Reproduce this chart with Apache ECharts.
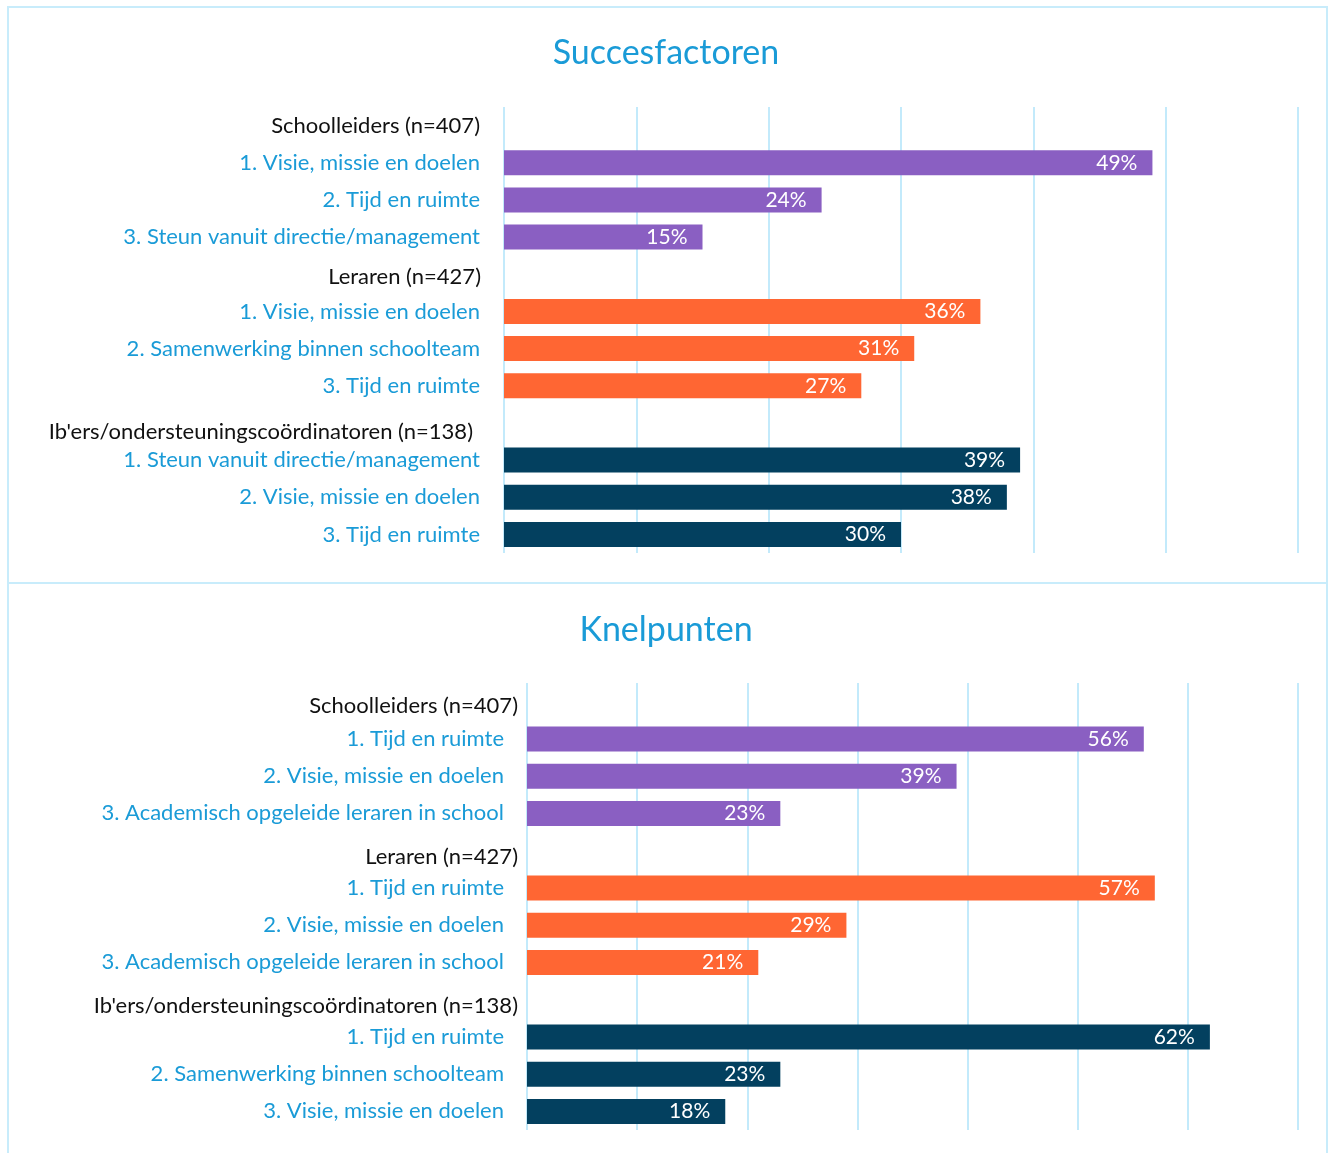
<!DOCTYPE html>
<html>
<head>
<meta charset="utf-8">
<script src="https://cdn.jsdelivr.net/npm/echarts@6/dist/echarts.min.js"></script>
<style>
html,body{margin:0;padding:0;background:#fff;}
#c{width:1332px;height:1153px;}
</style>
</head>
<body>
<div id="c"></div>
<script>
const titles = ['Succesfactoren', 'Knelpunten'];
const groups = ['Schoolleiders (n=407)', 'Leraren (n=427)', "Ib'ers/ondersteuningscoördinatoren (n=138)"];

const succesItems = [
  ['1. Visie, missie en doelen', '2. Tijd en ruimte', '3. Steun vanuit directie/management'],
  ['1. Visie, missie en doelen', '2. Samenwerking binnen schoolteam', '3. Tijd en ruimte'],
  ['1. Steun vanuit directie/management', '2. Visie, missie en doelen', '3. Tijd en ruimte']
];
const succesValues = [
  [49, 24, 15],
  [36, 31, 27],
  [39, 38, 30]
];

const knelItems = [
  ['1. Tijd en ruimte', '2. Visie, missie en doelen', '3. Academisch opgeleide leraren in school'],
  ['1. Tijd en ruimte', '2. Visie, missie en doelen', '3. Academisch opgeleide leraren in school'],
  ['1. Tijd en ruimte', '2. Samenwerking binnen schoolteam', '3. Visie, missie en doelen']
];
const knelValues = [
  [56, 39, 23],
  [57, 29, 21],
  [62, 23, 18]
];

const axisMax = [60, 70];
const tickInterval = 10;

const groupColors = ['#8a5fc2', '#ff6633', '#03405f'];
const FONT = 'Lato';
const LBL = 22;

function build(items, values) {
  const cats = [], data = [];
  groups.forEach((g, gi) => {
    cats.push(g);
    data.push('-');
    items[gi].forEach((it, k) => {
      cats.push(it);
      data.push(values[gi][k]);
    });
  });
  return { cats, data };
}

const s = build(succesItems, succesValues);
const k = build(knelItems, knelValues);

// header label vertical/horizontal tweaks (style only)
const hdrStyles = [
  [[0, 4, 0, 0], [6, 3, 0, 0], [18, 11, 0, 0]],
  [[9, 0, 0, 0], [13, 0, 0, 0], [13, 0, 0, 0]]
];
const itemPad = [[0, 4, 0, 0], [0, 14, 0, 0]];
const labelMargin = [20, 9];

function yAxisFor(gi, cats) {
  const rich = {
    it: { color: '#1a9bd7', fontSize: LBL, fontFamily: FONT, padding: itemPad[gi] },
    h0: { color: '#111', fontSize: LBL, fontFamily: FONT, padding: hdrStyles[gi][0] },
    h1: { color: '#111', fontSize: LBL, fontFamily: FONT, padding: hdrStyles[gi][1] },
    h2: { color: '#111', fontSize: LBL, fontFamily: FONT, padding: hdrStyles[gi][2] }
  };
  return {
    type: 'category',
    gridIndex: gi,
    inverse: true,
    data: cats,
    axisLine: { show: false },
    axisTick: { show: false },
    axisLabel: {
      margin: labelMargin[gi],
      interval: 0,
      rich: rich,
      formatter: function (v, idx) {
        if (idx % 4 === 0) return '{h' + (idx / 4) + '|' + v + '}';
        return '{it|' + v + '}';
      }
    }
  };
}

function xAxisFor(gi) {
  return {
    type: 'value',
    gridIndex: gi,
    min: 0,
    max: axisMax[gi],
    interval: tickInterval,
    axisLabel: { show: false },
    axisLine: { show: false },
    axisTick: { show: false },
    splitLine: { show: true, lineStyle: { color: '#c3eafb', width: 2 } }
  };
}

function seriesFor(gi, data) {
  return {
    type: 'bar',
    xAxisIndex: gi,
    yAxisIndex: gi,
    data: data,
    barWidth: 25,
    itemStyle: {
      color: function (p) { return groupColors[Math.floor(p.dataIndex / 4)]; }
    },
    label: {
      show: true,
      position: 'insideRight',
      distance: 15,
      color: '#fff',
      fontSize: 21,
      fontFamily: FONT,
      formatter: '{c}%'
    },
    silent: true,
    animation: false
  };
}

const chart = echarts.init(document.getElementById('c'), null, { renderer: 'canvas' });
chart.setOption({
  animation: false,
  backgroundColor: '#fff',
  title: [
    { text: titles[0], left: 'center', top: 31, textStyle: { color: '#1a9bd7', fontSize: 34, fontWeight: 'normal', fontFamily: FONT } },
    { text: titles[1], left: 'center', top: 608, textStyle: { color: '#1a9bd7', fontSize: 34, fontWeight: 'normal', fontFamily: FONT } }
  ],
  graphic: [
    { type: 'rect', shape: { x: 8, y: 7, width: 1319, height: 1160 }, style: { fill: 'none', stroke: '#c8ecfb', lineWidth: 2 }, silent: true },
    { type: 'line', shape: { x1: 8, y1: 583, x2: 1327, y2: 583 }, style: { stroke: '#c8ecfb', lineWidth: 2 }, silent: true }
  ],
  grid: [
    { left: 504, right: 34, top: 107, height: 446 },
    { left: 527, right: 34, top: 683, height: 447 }
  ],
  xAxis: [xAxisFor(0), xAxisFor(1)],
  yAxis: [yAxisFor(0, s.cats), yAxisFor(1, k.cats)],
  series: [seriesFor(0, s.data), seriesFor(1, k.data)]
});
</script>
</body>
</html>
